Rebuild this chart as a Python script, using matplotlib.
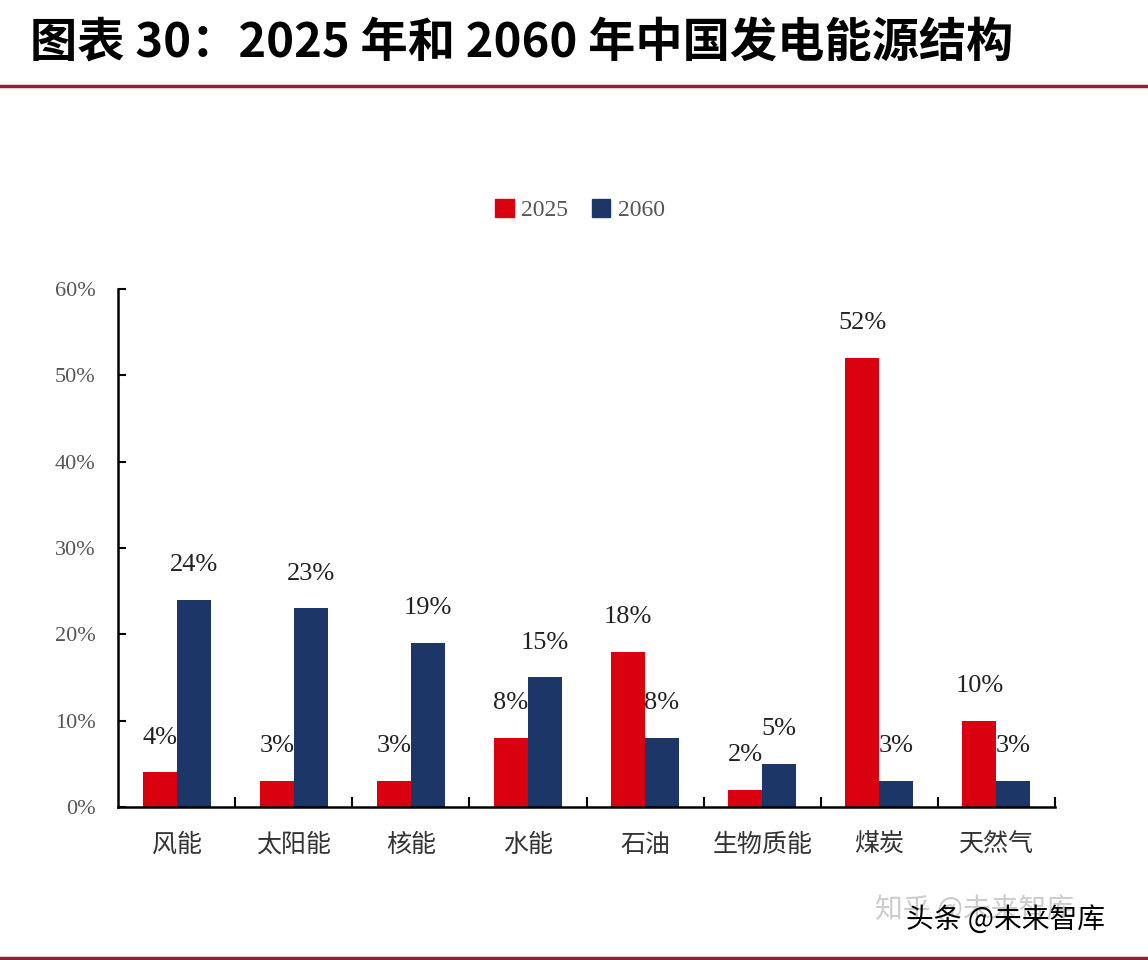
import numpy as np
import matplotlib.pyplot as plt
from matplotlib.patches import Patch
from matplotlib.lines import Line2D

# ==================== data ====================
categories = ["风能", "太阳能", "核能", "水能", "石油", "生物质能", "煤炭", "天然气"]
share_2025 = [4, 3, 3, 8, 18, 2, 52, 10]
share_2060 = [24, 23, 19, 15, 8, 5, 3, 3]
series_names = ["2025", "2060"]
y_ticks = [0, 10, 20, 30, 40, 50, 60]
y_tick_labels = ["0%", "10%", "20%", "30%", "40%", "50%", "60%"]
title = "图表 30：2025 年和 2060 年中国发电能源结构"

red = "#D9000F"
blue = "#1C3767"
serif = ["Liberation Serif", "DejaVu Serif"]
cjk = ["Noto Sans CJK SC", "DejaVu Sans"]

fig = plt.figure(figsize=(11.48, 9.6), dpi=100)
fig.patch.set_facecolor("white")

# title and red rules
fig.text(0.026, 0.956, title, fontsize=34, fontweight="bold", family=cjk,
         ha="left", va="center", color="black", style="italic")
fig.add_artist(Line2D([0, 1], [0.910, 0.910], color="#9B1B30", lw=2.5))
fig.add_artist(Line2D([0, 1], [0.002, 0.002], color="#9B1B30", lw=2.5))

ax = fig.add_axes([0.1028, 0.1594, 0.8162, 0.5396])
x = np.arange(len(categories))
w = 0.29
ax.bar(x - w / 2, share_2025, width=w, color=red, label=series_names[0])
ax.bar(x + w / 2, share_2060, width=w, color=blue, label=series_names[1])

for xi, v in zip(x, share_2025):
    ax.annotate(f"{v}%", (xi - w / 2, v), xytext=(0, 25), textcoords="offset points",
                ha="center", va="center", fontsize=19, family=serif, color="#222222")
for xi, v in zip(x, share_2060):
    ax.annotate(f"{v}%", (xi + w / 2, v), xytext=(0, 25), textcoords="offset points",
                ha="center", va="center", fontsize=19, family=serif, color="#222222")

ax.set_xlim(-0.5, len(categories) - 0.5)
ax.set_ylim(0, 60)
ax.set_yticks(y_ticks)
ax.set_yticklabels(y_tick_labels, family=serif, fontsize=16, color="#555555")
ax.set_xticks(x)
ax.set_xticklabels(categories, family=cjk, fontsize=18, color="#333333", fontweight="light")
ax.set_xticks(np.arange(0.5, len(categories), 1), minor=True)
ax.tick_params(axis="x", which="major", length=0, pad=18)
ax.tick_params(axis="x", which="minor", direction="in", length=7, width=1.5)
ax.tick_params(axis="y", direction="in", length=6, width=1.5, pad=16)

for side in ["top", "right"]:
    ax.spines[side].set_visible(False)
for side in ["left", "bottom"]:
    ax.spines[side].set_linewidth(1.8)

handles = [Patch(color=red), Patch(color=blue)]
leg = fig.legend(handles, series_names, loc="center", bbox_to_anchor=(0.505, 0.781),
                 ncol=2, frameon=False, handlelength=0.8, handleheight=0.8,
                 handletextpad=0.3, columnspacing=1.0,
                 prop={"family": serif, "size": 17})
for t in leg.get_texts():
    t.set_color("#555555")

# watermarks (overlapping, as in the source image)
fig.text(0.762, 0.052, "知乎 @未来智库", fontsize=20, family=cjk, color="#cccccc",
         ha="left", va="center")
fig.text(0.789, 0.042, "头条 @未来智库", fontsize=20, family=cjk, color="black",
         ha="left", va="center")

fig.savefig("out.png", dpi=100, facecolor="white")
